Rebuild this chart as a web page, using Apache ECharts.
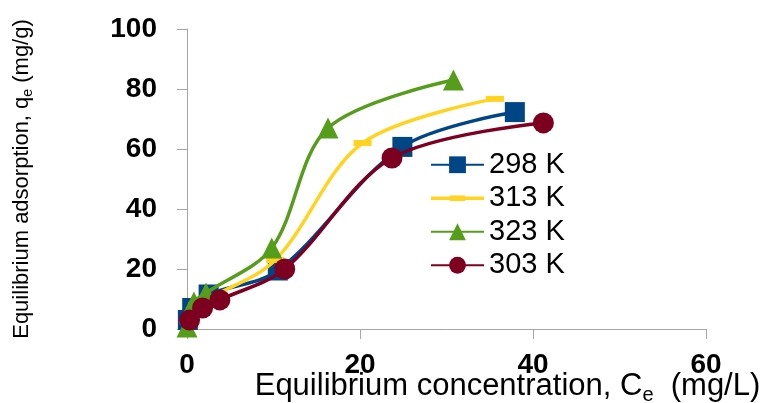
<!DOCTYPE html>
<html>
<head>
<meta charset="utf-8">
<script src="https://cdn.jsdelivr.net/npm/echarts@6/dist/echarts.min.js"></script>
<style>
html,body{margin:0;padding:0;background:#fff;}
#chart{width:767px;height:403px;}
</style>
</head>
<body>
<div id="chart"></div>
<script>
// Series data: [Ce (mg/L), qe (mg/g)]
var seriesNames = ['298 K', '313 K', '323 K', '303 K'];
var data298 = [[0.1, 3], [0.6, 7], [2.5, 11.5], [10.5, 19.5], [24.9, 60.7], [37.9, 72.3]];
var data313 = [[0.2, 2.5], [1.2, 8], [2.8, 10.5], [10.2, 23], [20.3, 62], [35.6, 76.7]];
var data323 = [[0, 0.7], [0.8, 9], [2.2, 12], [9.8, 27], [16.3, 67], [30.8, 83]];
var data303 = [[0.3, 3], [1.8, 7], [3.8, 9.7], [11.3, 20], [23.7, 57], [41.2, 68.7]];
var xTicks = [0, 20, 40, 60];
var yTicks = [0, 20, 40, 60, 80, 100];

var FONT = "'Liberation Sans', Arial, sans-serif";
var colors = ['#004586', '#ffd320', '#579d1c', '#7e0021'];
var symbols = ['rect', 'rect', 'triangle', 'circle'];
var sizes = [20, [18, 6], 21, 21];
var allData = [data298, data313, data323, data303];

var chart = echarts.init(document.getElementById('chart'), null, {renderer: 'canvas'});

var series = seriesNames.map(function (n, i) {
  return {
    name: n,
    type: 'line',
    data: allData[i],
    smooth: 0.33,
    symbol: symbols[i],
    symbolSize: sizes[i],
    showAllSymbol: true,
    lineStyle: {color: colors[i], width: 3.5},
    itemStyle: {color: colors[i], opacity: 1},
    emphasis: {disabled: true},
    z: 2 + i
  };
});

var option = {
  animation: false,
  backgroundColor: '#ffffff',
  grid: {left: 187, right: 61, top: 29, bottom: 74, containLabel: false, outerBoundsMode: 'none'},
  legend: {
    orient: 'vertical',
    left: 430,
    top: 148,
    padding: 0,
    itemGap: 0,
    itemWidth: 53,
    itemHeight: 21,
    textStyle: {fontFamily: FONT, fontSize: 29, color: '#000', lineHeight: 33.5},
    data: [
      {name: '298 K'},
      {name: '313 K', icon: 'path://M0,9 L53,9 L53,12.5 L0,12.5 Z M19,8 L34,8 L34,13.5 L19,13.5 Z'},
      {name: '323 K'},
      {name: '303 K'}
    ]
  },
  xAxis: {
    type: 'value',
    min: xTicks[0],
    max: xTicks[xTicks.length - 1],
    interval: 20,
    name: '{a|Equilibrium concentration, C}{s|e}{a|  (mg/L)}',
    nameLocation: 'middle',
    nameGap: 42,
    nameMoveOverlap: false,
    nameTextStyle: {
      verticalAlign: 'top',
      padding: [0, 0, 0, 122],
      rich: {
        a: {fontFamily: FONT, fontSize: 31, color: '#000', lineHeight: 31, verticalAlign: 'top'},
        s: {fontFamily: FONT, fontSize: 20, color: '#000', lineHeight: 20, verticalAlign: 'top', padding: [14, 0, 0, 0]}
      }
    },
    axisLine: {show: true, lineStyle: {color: '#a6a6a6', width: 1}},
    axisTick: {show: true, inside: false, length: 10, lineStyle: {color: '#a6a6a6'}},
    splitLine: {show: false},
    axisLabel: {fontFamily: FONT, fontSize: 28, fontWeight: 'bold', color: '#000', margin: 22}
  },
  yAxis: {
    type: 'value',
    min: yTicks[0],
    max: yTicks[yTicks.length - 1],
    interval: 20,
    name: '{a|Equilibrium adsorption, q}{s|e}{a| (mg/g)}',
    nameLocation: 'middle',
    nameGap: 154,
    nameRotate: 90,
    nameMoveOverlap: false,
    nameTextStyle: {
      rich: {
        a: {fontFamily: FONT, fontSize: 22, color: '#000', lineHeight: 22, verticalAlign: 'top'},
        s: {fontFamily: FONT, fontSize: 14, color: '#000', lineHeight: 14, verticalAlign: 'top', padding: [10, 0, 0, 0]}
      }
    },
    axisLine: {show: true, lineStyle: {color: '#a6a6a6', width: 1}},
    axisTick: {show: true, inside: false, length: 10, lineStyle: {color: '#a6a6a6'}},
    splitLine: {show: false},
    axisLabel: {fontFamily: FONT, fontSize: 28, fontWeight: 'bold', color: '#000', margin: 30}
  },
  series: series
};
chart.setOption(option);
</script>
</body>
</html>
